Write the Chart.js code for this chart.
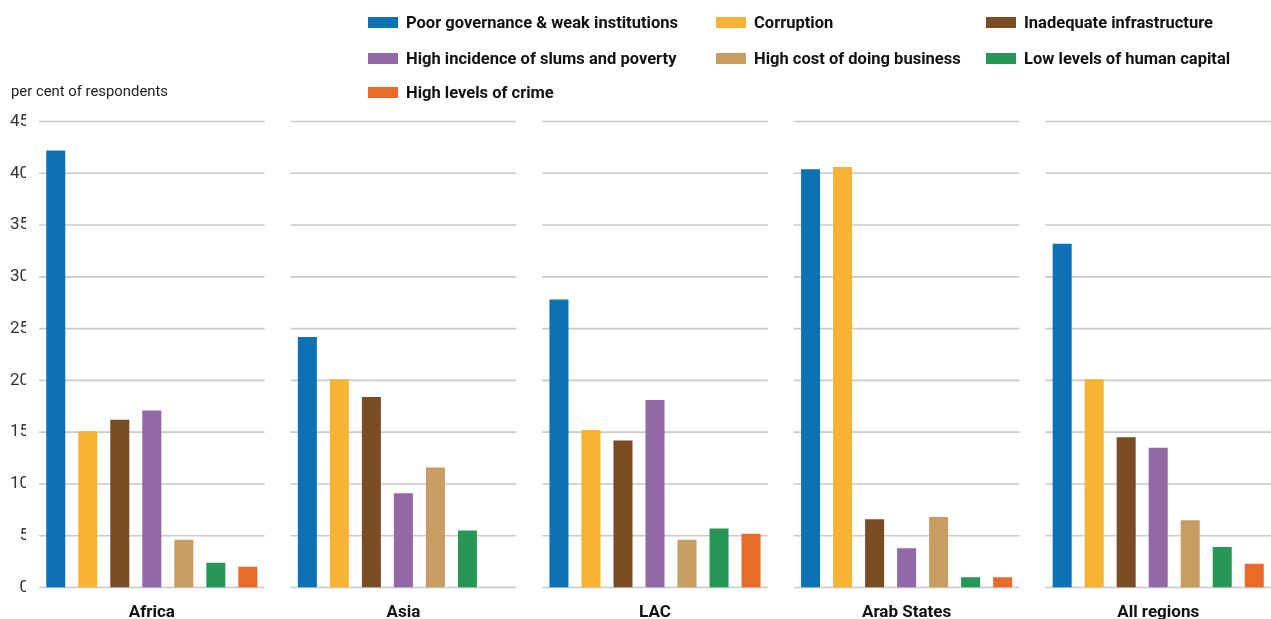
<!DOCTYPE html>
<html>
<head>
<meta charset="utf-8">
<script src="https://cdn.jsdelivr.net/npm/chart.js@4/dist/chart.umd.min.js"></script>
<style>
  html, body { margin: 0; padding: 0; background: #fff; overflow: hidden; width: 1271px; height: 619px; }
  #wrap { position: relative; width: 1271px; height: 619px; overflow: hidden; }
  #c { position: absolute; left: 0; top: 0; }
  .fnt { font-family: Roboto, "Liberation Sans", sans-serif; }
  #ytitle { position: absolute; left: 11px; top: 82px; font-size: 15.5px; color: #222; transform-origin: 0 50%; white-space: nowrap; }
  #legend { position: absolute; left: 0; top: 0; }
  .item { position: absolute; display: flex; align-items: center; height: 20px; font-size: 17px; font-weight: bold; color: #111; white-space: nowrap; }
  .sw { width: 30px; height: 11px; margin-right: 8px; flex: none; }
  .tx { display: inline-block; transform-origin: 0 50%; }
</style>
</head>
<body>
<div id="wrap">
  <canvas id="c" width="1284" height="619"></canvas>
  <div id="ytitle" class="fnt">per cent of respondents</div>
  <div id="legend" class="fnt"></div>
</div>
<script>
const regions = ["Africa", "Asia", "LAC", "Arab States", "All regions"];
const seriesNames = [
  "Poor governance & weak institutions",
  "Corruption",
  "Inadequate infrastructure",
  "High incidence of slums and poverty",
  "High cost of doing business",
  "Low levels of human capital",
  "High levels of crime"
];
const seriesColors = ["#0c72b5", "#f8b334", "#7b4b24", "#9369a5", "#c89d63", "#299557", "#ea6a2a"];

const poorGovernance = [42.2, 24.2, 27.8, 40.4, 33.2];
const corruption     = [15.1, 20.1, 15.2, 40.6, 20.1];
const infrastructure = [16.2, 18.4, 14.2, 6.6, 14.5];
const slumsPoverty   = [17.1, 9.1, 18.1, 3.8, 13.5];
const costBusiness   = [4.6, 11.6, 4.6, 6.8, 6.5];
const humanCapital   = [2.4, 5.5, 5.7, 1.0, 3.9];
const crime          = [2.0, 0, 5.2, 1.0, 2.3];
const seriesValues = [poorGovernance, corruption, infrastructure, slumsPoverty, costBusiness, humanCapital, crime];

const yTicks = [0, 5, 10, 15, 20, 25, 30, 35, 40, 45];

const FONT = 'Roboto, "Liberation Sans", sans-serif';

// gridlines broken between the region groups
const segmentGrid = {
  id: "segmentGrid",
  beforeDatasetsDraw(chart) {
    const ctx = chart.ctx, x = chart.scales.x, y = chart.scales.y;
    const half = x.width / regions.length / 2;
    ctx.save();
    ctx.strokeStyle = "#c9c9c9";
    ctx.lineWidth = 1.6;
    yTicks.forEach(t => {
      const py = y.getPixelForValue(t);
      regions.forEach((r, i) => {
        const cx = x.getPixelForValue(i);
        ctx.beginPath();
        ctx.moveTo(cx - half + 13, py);
        ctx.lineTo(cx + half - 13, py);
        ctx.stroke();
      });
    });
    ctx.restore();
  }
};

const chart = new Chart(document.getElementById("c"), {
  type: "bar",
  data: {
    labels: regions,
    datasets: seriesNames.map((n, i) => ({
      label: n,
      data: seriesValues[i],
      backgroundColor: seriesColors[i],
      borderWidth: 0,
      categoryPercentage: 0.8907,
      barPercentage: 0.594
    }))
  },
  options: {
    responsive: false,
    animation: false,
    layout: { padding: { top: 121.5, left: 0, right: 0, bottom: 0 } },
    plugins: { legend: { display: false }, tooltip: { enabled: false } },
    scales: {
      x: {
        grid: { display: false },
        border: { display: false },
        ticks: { color: "#111", padding: 7, font: { family: FONT, size: 17, weight: "bold" } },
        afterFit(s) { s.height = 31.5; }
      },
      y: {
        min: 0, max: 45,
        grid: { display: false, drawTicks: false },
        border: { display: false },
        ticks: { stepSize: 5, color: "#333", padding: -3, font: { family: FONT, size: 17 } },
        afterFit(s) { s.width = 26; }
      }
    }
  },
  plugins: [segmentGrid]
});

// html legend in three columns
const cols = [368, 716, 986];
const rows = [22, 58, 92];
const leg = document.getElementById("legend");
const spans = [];
chart.options.plugins.legend.labels.generateLabels(chart).forEach((it, i) => {
  const d = document.createElement("div");
  d.className = "item";
  d.style.left = cols[i % 3] + "px";
  d.style.top = (rows[Math.floor(i / 3)] - 10) + "px";
  const sw = document.createElement("span");
  sw.className = "sw";
  sw.style.background = it.fillStyle;
  const tx = document.createElement("span");
  tx.className = "tx";
  tx.textContent = it.text;
  d.appendChild(sw);
  d.appendChild(tx);
  leg.appendChild(d);
  spans.push(tx);
});
// condensed look: squeeze the text to the reference widths
const k = 272 / spans[0].getBoundingClientRect().width;
spans.forEach(s => { s.style.transform = "scaleX(" + k + ")"; });
const yt = document.getElementById("ytitle");
yt.style.transform = "scaleX(" + (157 / yt.getBoundingClientRect().width) + ")";
</script>
</body>
</html>
